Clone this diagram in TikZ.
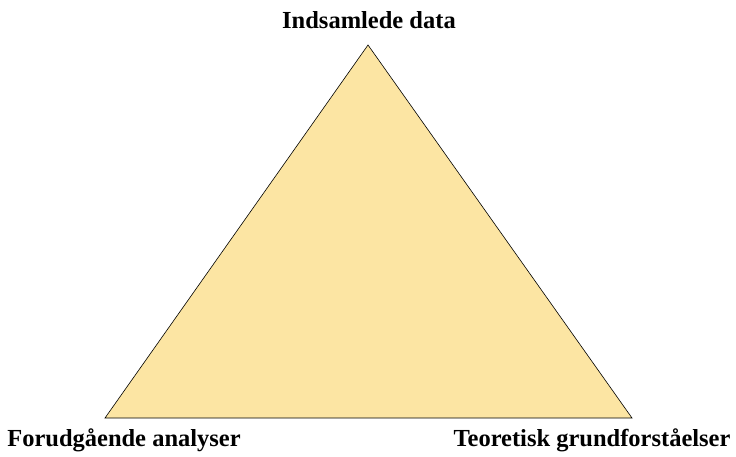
\documentclass[tikz,border=0pt]{standalone}
\usepackage{fontspec}
\setmainfont{Liberation Serif}
\usetikzlibrary{positioning,calc}
\definecolor{DataGold}{RGB}{252,229,163}
\tikzset{
  corner/.style={font=\fontsize{24.5}{28}\selectfont\bfseries,inner sep=0pt,anchor=base},
  tri/.style={draw=black,fill=DataGold,line width=0.6pt,line join=miter},
}

\begin{document}
\begin{tikzpicture}[x=1pt,y=1pt]
  \useasboundingbox (0,0) rectangle (736,456);
  \coordinate (top) at (368,411);
  \coordinate (left) at (105,38);
  \coordinate (right) at (632,38);
  \draw[tri] (left)--(right)--(top)--cycle;
  \node[corner] (data) at (369,427) {Indsamlede data};
  \node[corner] (analyser) at (124,9.5) {Forudgående analyser};
  \node[corner] (teori) at (592,9.5) {Teoretisk grundforståelser};
\end{tikzpicture}
\end{document}
